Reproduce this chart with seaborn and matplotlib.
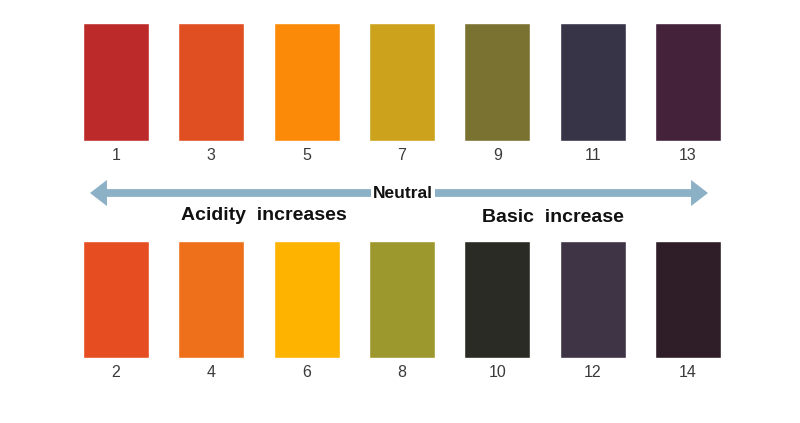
import matplotlib
matplotlib.use("Agg")
import matplotlib.pyplot as plt
import pandas as pd
import seaborn as sns

# pH strips, odd values on top row, even values on bottom row
top_ph = ["1", "3", "5", "7", "9", "11", "13"]
top_colors = ["#BC2B29", "#E04F22", "#FB8A08", "#CCA21C", "#7A7230", "#363446", "#44223A"]
bottom_ph = ["2", "4", "6", "8", "10", "12", "14"]
bottom_colors = ["#E64E22", "#EE701A", "#FDB300", "#9C982E", "#2A2B24", "#3F3346", "#2F1D27"]

arrow_color = "#8CB0C6"
W, H = 800, 423

sns.set_style("white")
plt.rcParams["font.family"] = ["Liberation Sans", "DejaVu Sans"]

fig = plt.figure(figsize=(8, 4.23), dpi=100)

# x limits so that category 0 sits at 116px and category 6 at 688px
step = (688 - 116) / 6
xmin = -116 / step
xmax = xmin + W / step


def strip_row(top_px, bottom_px, labels, colors):
    ax = fig.add_axes([0, 1 - bottom_px / H, 1, (bottom_px - top_px) / H])
    df = pd.DataFrame({"ph": labels, "v": [1] * len(labels)})
    sns.barplot(data=df, x="ph", y="v", hue="ph", palette=dict(zip(labels, colors)),
                width=0.69, saturation=1, legend=False, ax=ax)
    ax.set_xlim(xmin, xmax)
    ax.set_ylim(0, 1)
    ax.set_xlabel("")
    ax.set_ylabel("")
    ax.set_yticks([])
    ax.tick_params(axis="x", length=0, pad=5, labelsize=11.5, labelcolor="#3a3a3a")
    sns.despine(ax=ax, left=True, bottom=True)
    ax.patch.set_alpha(0)
    return ax


strip_row(23, 141, top_ph, top_colors)
strip_row(241, 358, bottom_ph, bottom_colors)

# overlay in pixel coordinates for the arrow and labels
ov = fig.add_axes([0, 0, 1, 1])
ov.set_xlim(0, W)
ov.set_ylim(H, 0)
ov.axis("off")
ov.patch.set_alpha(0)

# two filled arrows going out from the middle
arrow_style = "simple,head_length=0.61,head_width=0.94,tail_width=0.28"
for tip in (90, 708):
    ov.annotate("", xy=(tip, 193), xytext=(400, 193),
                arrowprops=dict(arrowstyle=arrow_style, mutation_scale=20,
                                fc=arrow_color, ec="none", lw=0,
                                shrinkA=0, shrinkB=0))
ov.text(403, 193, "Neutral", ha="center", va="center", fontsize=12.5, fontweight="bold",
        color="#111111", bbox=dict(boxstyle="square,pad=0.12", fc="white", ec="none"))
ov.text(264, 216, "Acidity  increases", ha="center", va="center", fontsize=14,
        fontweight="bold", color="#111111")
ov.text(553, 217, "Basic  increase", ha="center", va="center", fontsize=14,
        fontweight="bold", color="#111111")

fig.savefig("out.png", dpi=100, facecolor="white")
